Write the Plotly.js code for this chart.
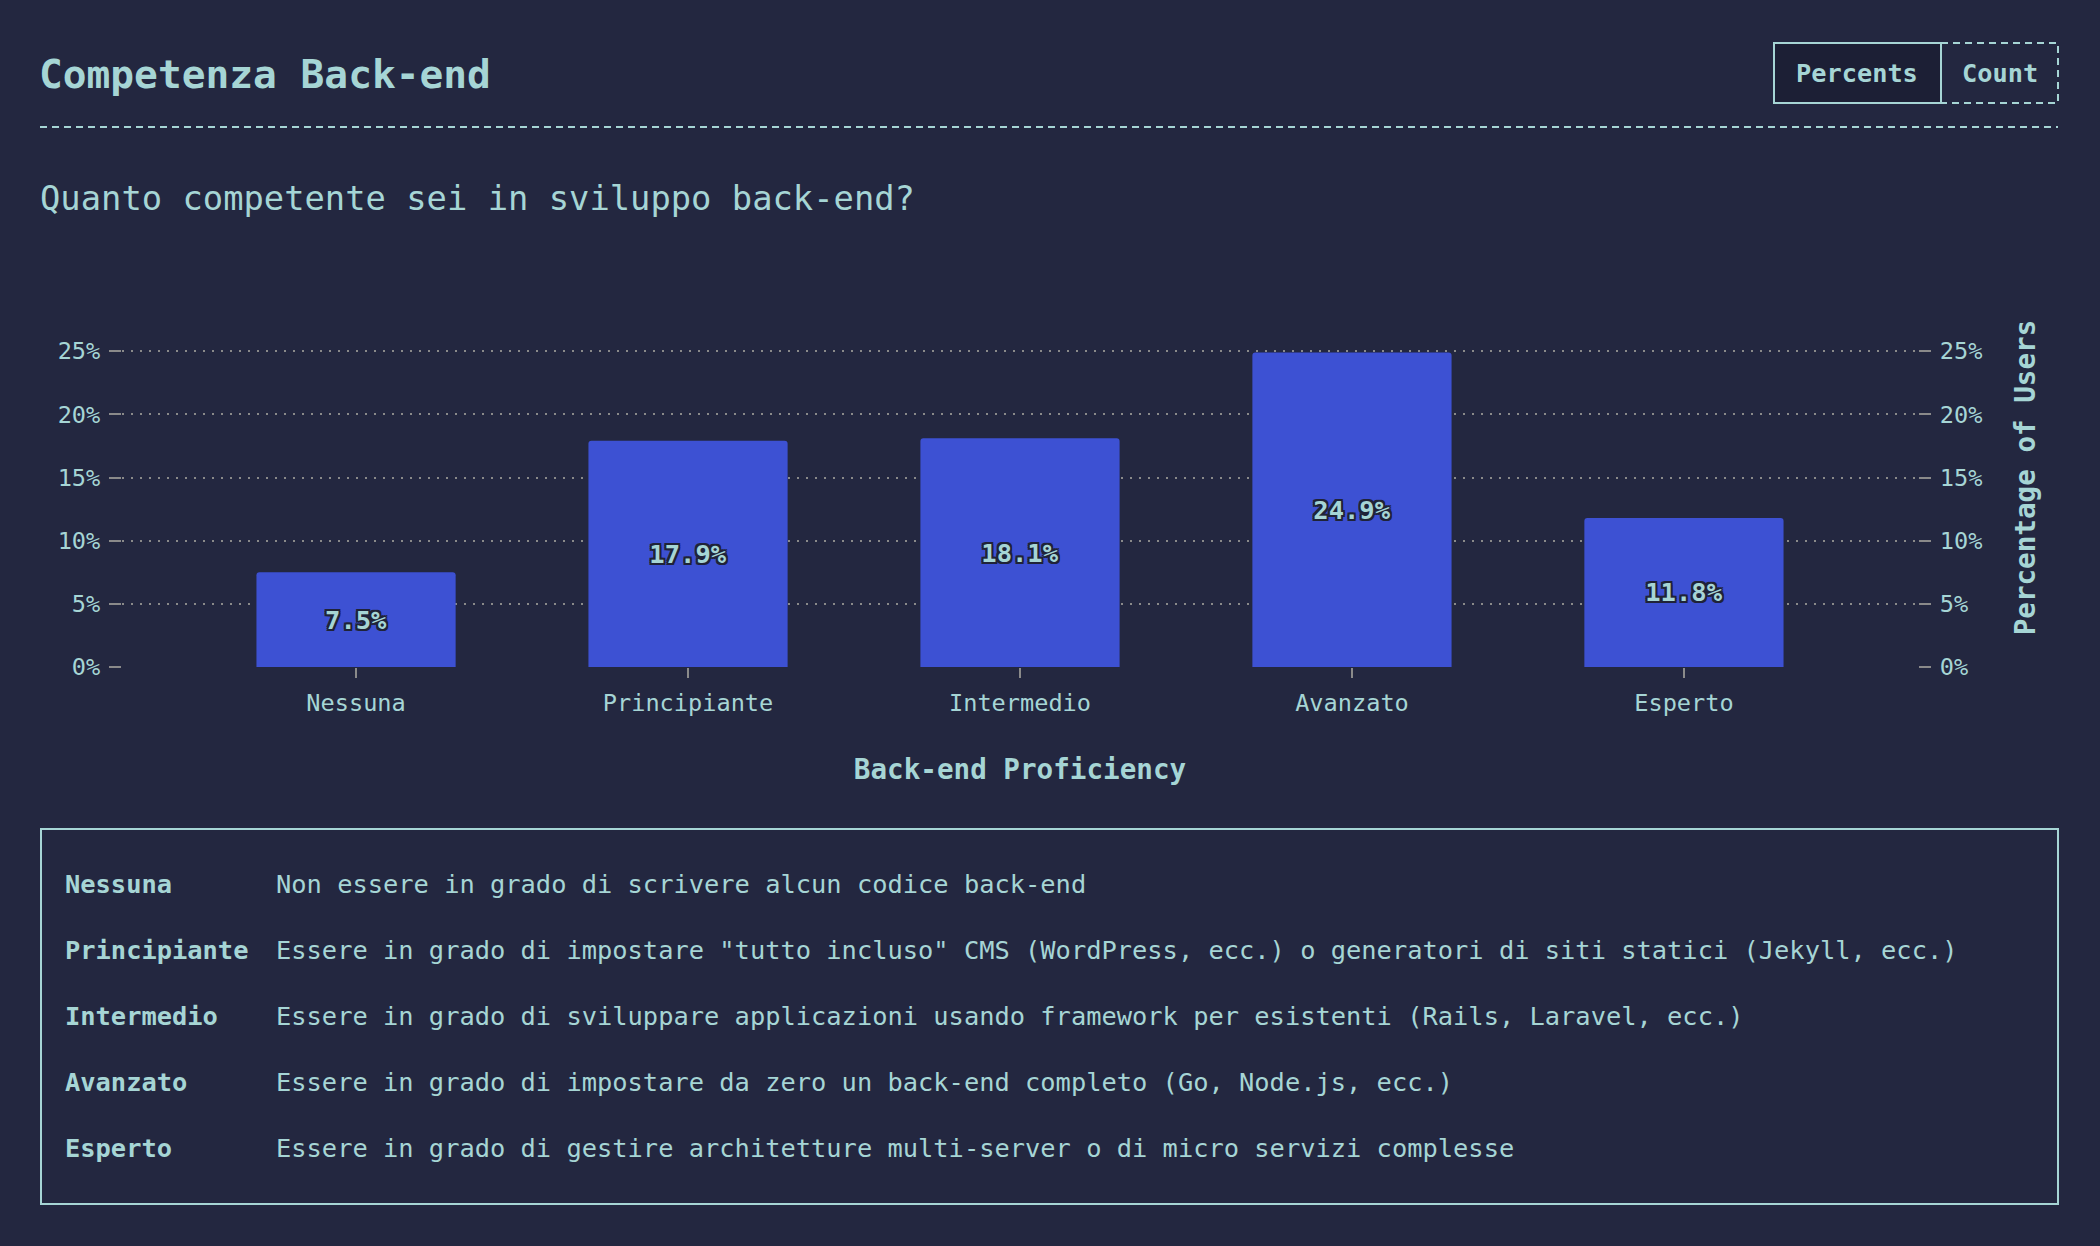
<!DOCTYPE html>
<html>
<head>
<meta charset="utf-8">
<script src="https://cdn.plot.ly/plotly-3.0.1.min.js"></script>
<style>
  html, body { margin: 0; padding: 0; background: #232740; }
  #chart { width: 2100px; height: 1246px; }
</style>
</head>
<body>
<div id="chart"></div>
<script>
// ---- data ----
const categories = ['Nessuna', 'Principiante', 'Intermedio', 'Avanzato', 'Esperto'];
const percents = [7.5, 17.9, 18.1, 24.9, 11.8];
const yTickVals = [0, 5, 10, 15, 20, 25];
const yTickText = ['0%', '5%', '10%', '15%', '20%', '25%'];
const definitionLabels = ['Nessuna', 'Principiante', 'Intermedio', 'Avanzato', 'Esperto'];
const definitionTexts = [
  'Non essere in grado di scrivere alcun codice back-end',
  'Essere in grado di impostare "tutto incluso" CMS (WordPress, ecc.) o generatori di siti statici (Jekyll, ecc.)',
  'Essere in grado di sviluppare applicazioni usando framework per esistenti (Rails, Laravel, ecc.)',
  'Essere in grado di impostare da zero un back-end completo (Go, Node.js, ecc.)',
  'Essere in grado di gestire architetture multi-server o di micro servizi complesse'
];
const chartTitle = 'Competenza Back-end';
const questionText = 'Quanto competente sei in sviluppo back-end?';
const xTitle = 'Back-end Proficiency';
const yTitle = 'Percentage of Users';
const buttonLabels = ['Percents', 'Count'];

// ---- style ----
const W = 2100, H = 1246;
const PL = 122, PR = 1918, PT = 288, PB = 667;
const BG = '#232740';
const TEAL = '#a6d5d5';
const GRID = '#8a8a8a';
const BAR = '#3d51d3';
const FONT = '"DejaVu Sans Mono", "Liberation Mono", monospace';
const X = px => (px - PL) / (PR - PL);
const Y = py => (PB - py) / (PB - PT);

const outline = '#1f2338';
const shadow = [
  '-2px -2px 0 ' + outline, '2px -2px 0 ' + outline, '-2px 2px 0 ' + outline, '2px 2px 0 ' + outline,
  '0 -2px 0 ' + outline, '0 2px 0 ' + outline, '-2px 0 0 ' + outline, '2px 0 0 ' + outline
].join(', ');

const traces = [
  {
    type: 'bar',
    x: categories,
    y: percents,
    marker: { color: BAR },
    texttemplate: '%{y:.1f}%',
    textposition: 'inside',
    insidetextanchor: 'middle',
    textangle: 0,
    textfont: { family: FONT, size: 25.5, color: TEAL, weight: 700, shadow: shadow },
    hoverinfo: 'skip',
    showlegend: false
  },
  {
    type: 'bar',
    x: categories,
    y: percents,
    yaxis: 'y2',
    marker: { color: 'rgba(0,0,0,0)' },
    hoverinfo: 'skip',
    showlegend: false
  }
];

const annotations = [
  { text: questionText, x: X(38), y: Y(198), xanchor: 'left', yanchor: 'middle',
    font: { family: FONT, size: 33.8, color: TEAL } },
  { text: '<b>' + buttonLabels[0] + '</b>', x: X(1857), y: Y(73), xanchor: 'center', yanchor: 'middle',
    font: { family: FONT, size: 25.3, color: TEAL } },
  { text: '<b>' + buttonLabels[1] + '</b>', x: X(2000), y: Y(73), xanchor: 'center', yanchor: 'middle',
    font: { family: FONT, size: 25.3, color: TEAL } }
];
definitionLabels.forEach((lab, i) => {
  const cy = 884 + 66 * i;
  annotations.push({ text: '<b>' + lab + '</b>', x: X(63), y: Y(cy), xanchor: 'left', yanchor: 'middle',
    font: { family: FONT, size: 25.4, color: TEAL } });
  annotations.push({ text: definitionTexts[i], x: X(274), y: Y(cy), xanchor: 'left', yanchor: 'middle',
    font: { family: FONT, size: 25.4, color: TEAL } });
});
annotations.forEach(a => { a.xref = 'paper'; a.yref = 'paper'; a.showarrow = false; });

const shapes = [
  { type: 'line', x0: X(40), x1: X(2058), y0: Y(127), y1: Y(127),
    line: { color: TEAL, width: 2, dash: '7px,5px' } },
  { type: 'rect', x0: X(1941), x1: X(2058), y0: Y(43), y1: Y(103),
    line: { color: TEAL, width: 2, dash: '7px,5px' }, fillcolor: 'rgba(0,0,0,0)' },
  { type: 'rect', x0: X(1774), x1: X(1941), y0: Y(43), y1: Y(103),
    line: { color: TEAL, width: 2 }, fillcolor: '#1c1f35' },
  { type: 'rect', x0: X(41), x1: X(2058), y0: Y(829), y1: Y(1204),
    line: { color: TEAL, width: 2 }, fillcolor: 'rgba(0,0,0,0)' }
];
shapes.forEach(s => { s.xref = 'paper'; s.yref = 'paper'; s.layer = 'below'; });

const yCommon = {
  range: [0, 30],
  tickvals: yTickVals,
  ticktext: yTickText,
  ticks: 'outside',
  ticklen: 12,
  tickwidth: 2,
  tickcolor: GRID,
  ticklabelstandoff: 4,
  tickfont: { family: FONT, size: 23.6, color: TEAL },
  zeroline: false,
  showline: false,
  fixedrange: true
};

const layout = {
  width: W,
  height: H,
  paper_bgcolor: BG,
  plot_bgcolor: BG,
  margin: { l: PL, r: W - PR, t: PT, b: H - PB, pad: 0 },
  title: {
    text: '<b>' + chartTitle + '</b>',
    x: 39 / W, xref: 'container', xanchor: 'left',
    y: 1 - 74 / H, yref: 'container', yanchor: 'middle',
    font: { family: FONT, size: 39.5, color: TEAL }
  },
  barmode: 'overlay',
  bargap: 0.4,
  barcornerradius: 3,
  xaxis: {
    type: 'category',
    range: [-0.705, 4.705],
    ticks: 'outside',
    ticklen: 10,
    tickwidth: 2,
    tickcolor: GRID,
    ticklabelstandoff: 5,
    tickfont: { family: FONT, size: 23.6, color: TEAL },
    showgrid: false,
    zeroline: false,
    showline: false,
    fixedrange: true,
    title: { text: '<b>' + xTitle + '</b>', standoff: 43,
      font: { family: FONT, size: 27.6, color: TEAL } }
  },
  yaxis: Object.assign({}, yCommon, {
    showgrid: true,
    gridcolor: GRID,
    gridwidth: 2,
    griddash: '2px,7px',
    side: 'left'
  }),
  yaxis2: Object.assign({}, yCommon, {
    overlaying: 'y',
    side: 'right',
    showgrid: false,
    title: { text: '<b>' + yTitle + '</b>', standoff: 34,
      font: { family: FONT, size: 27.6, color: TEAL } }
  }),
  annotations: annotations,
  shapes: shapes,
  showlegend: false,
  hovermode: false
};

Plotly.newPlot('chart', traces, layout, { displayModeBar: false, staticPlot: true });
</script>
</body>
</html>
